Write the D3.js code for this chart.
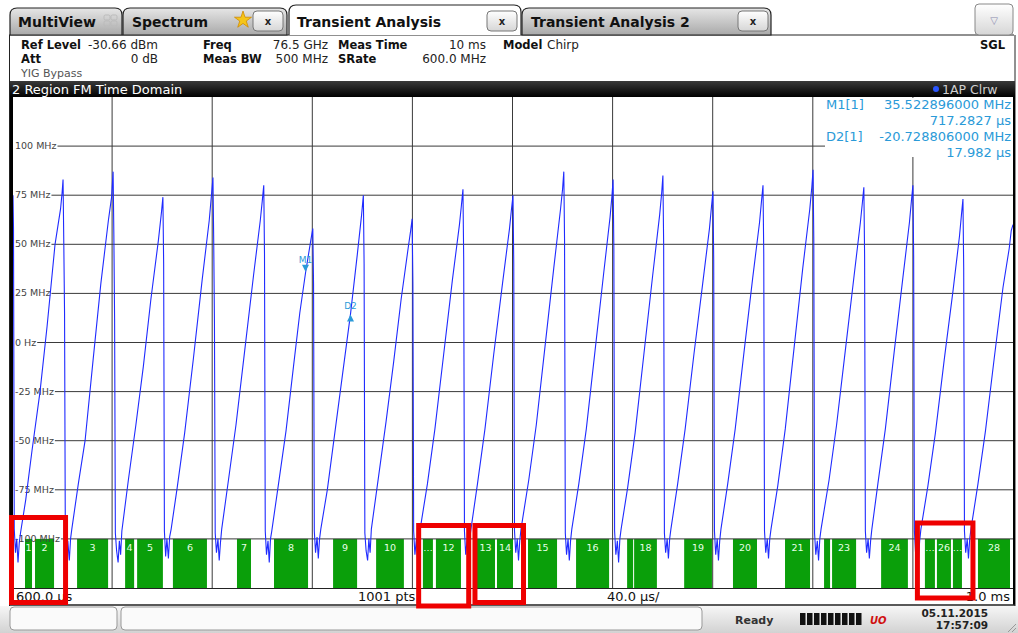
<!DOCTYPE html>
<html><head><meta charset="utf-8">
<script src="https://cdn.jsdelivr.net/npm/d3@7"></script>
<style>
html,body{margin:0;padding:0;background:#fff;}
svg{display:block;font-family:"DejaVu Sans",Verdana,sans-serif;}
</style></head><body>
<div id="chart"></div>
<script>
var timeTicks = [600,640,680,720,760,800,840,880,920,960,1000];   // µs
var freqTicks = [100,75,50,25,0,-25,-50,-75,-100];                 // MHz
var freqLabels = ["100 MHz","75 MHz","50 MHz","25 MHz","0 Hz","-25 MHz","-50 MHz","-75 MHz","-100 MHz"];

// region bars (µs)
var regionStart = [605.2,609.2,626.0,645.2,650.0,664.3,689.9,704.7,728.3,745.5,764.2,769.4,785.4,793.8,806.2,825.4,845.8,848.6,868.6,888.1,908.9,924.5,927.7,947.3,964.8,969.6,976.0,986.0];
var regionEnd   = [608.0,616.8,638.4,648.8,660.3,677.9,695.5,718.3,737.9,756.6,768.2,779.4,793.0,800.2,817.8,838.6,848.2,857.7,879.7,897.7,918.9,926.9,937.3,958.0,968.8,975.2,979.6,998.8];
var regionLabel = ["1","2","3","4","5","6","7","8","9","10","…","12","13","14","15","16","","18","19","20","21","","23","24","…","26","…","28"];

// FM trace vertices [µs, MHz]
var tracePts = [
 [600.0,66],[600.2,72],[600.4,75],[600.6,58],[600.9,-95],[601.4,-107],[601.9,-100],[602.4,-112],[602.9,-102],[603.4,-97],
 [605.5,-80],[608.0,-55],[611.2,-25],[614.0,8],[617.2,50],[619.4,68],[620.0,76],[620.4,83],
 [620.7,50],[621.0,15],[621.3,-96],[621.8,-108],[622.3,-101],[622.9,-111],[623.4,-100],[623.9,-95],
 [626.5,-72],[629.2,-50],[632.4,-9],[635.5,30],[638.5,62],[639.8,74],[640.4,87],
 [640.7,55],[641.0,12],[641.3,-97],[641.8,-106],[642.4,-112],[642.9,-101],[643.4,-108],[643.9,-96],
 [646.5,-70],[649.5,-42],[652.5,-12],[655.5,22],[658.5,52],[659.7,66],[660.3,74],
 [660.6,40],[660.9,-96],[661.4,-109],[661.9,-100],[662.5,-110],[663.0,-99],[663.6,-95],
 [666.0,-74],[669.0,-46],[672.5,-8],[676.0,32],[678.8,62],[679.7,75],[680.3,84],
 [680.6,52],[680.9,10],[681.2,-97],[681.7,-107],[682.3,-100],[682.8,-111],[683.3,-102],[683.8,-95],
 [686.5,-70],[689.5,-42],[693.0,-4],[696.5,34],[699.2,62],[700.0,72],[700.6,80],
 [700.9,45],[701.2,-96],[701.7,-108],[702.3,-101],[702.8,-112],[703.3,-100],[703.8,-96],
 [706.5,-72],[709.5,-45],[712.5,-12],[715.0,15],[717.3,35.5],[719.4,52],[720.2,58],
 [720.5,30],[720.8,-96],[721.3,-107],[721.9,-99],[722.4,-110],[722.9,-100],[723.4,-95],
 [726.0,-75],[729.0,-46],[732.0,-17],[735.3,14.8],[738.0,45],[739.7,65],[740.4,75],
 [740.7,40],[741.0,-97],[741.5,-106],[742.1,-111],[742.6,-100],[743.1,-107],[743.6,-95],
 [746.5,-68],[749.5,-40],[752.5,-10],[755.5,22],[758.3,48],[759.3,57],[759.9,63],
 [760.2,30],[760.5,-96],[761.0,-108],[761.6,-100],[762.1,-111],[762.6,-101],[763.1,-95],
 [766.0,-72],[769.0,-44],[772.5,-6],[776.0,32],[778.8,60],[779.6,70],[780.2,78],
 [780.5,42],[780.8,-96],[781.3,-108],[781.9,-100],[782.4,-110],[782.9,-100],[783.4,-95],
 [786.0,-72],[789.0,-44],[792.5,-6],[796.0,30],[798.8,58],[799.6,68],[800.2,75],
 [800.5,40],[800.8,-96],[801.3,-107],[801.9,-100],[802.4,-111],[802.9,-101],[803.4,-95],
 [806.5,-70],[809.5,-42],[813.0,-2],[816.5,38],[819.2,68],[820.0,78],[820.5,87],
 [820.8,52],[821.1,-97],[821.6,-108],[822.2,-100],[822.7,-111],[823.2,-101],[823.7,-95],
 [826.5,-72],[829.5,-44],[833.0,-4],[836.5,36],[839.0,64],[839.7,74],[840.2,83],
 [840.5,48],[840.8,-96],[841.3,-108],[841.9,-101],[842.4,-112],[842.9,-100],[843.4,-95],
 [846.0,-74],[849.0,-46],[852.5,-6],[856.0,34],[858.8,65],[859.6,76],[860.1,85],
 [860.4,50],[860.7,-97],[861.2,-107],[861.8,-100],[862.3,-110],[862.8,-100],[863.3,-95],
 [866.0,-72],[869.0,-44],[872.5,-6],[876.0,30],[878.7,58],[879.5,69],[880.1,77],
 [880.4,42],[880.7,-96],[881.2,-108],[881.8,-100],[882.3,-111],[882.8,-101],[883.3,-95],
 [886.0,-72],[889.0,-44],[892.5,-5],[896.0,33],[898.7,61],[899.5,72],[900.1,80],
 [900.4,45],[900.7,-96],[901.2,-107],[901.8,-100],[902.3,-110],[902.8,-100],[903.3,-95],
 [906.0,-73],[909.0,-44],[912.5,-3],[916.0,38],[918.8,68],[919.6,79],[920.1,88],
 [920.4,52],[920.7,-97],[921.2,-108],[921.8,-101],[922.3,-111],[922.8,-100],[923.3,-95],
 [926.5,-70],[929.5,-42],[933.0,-4],[936.5,34],[939.0,61],[939.8,71],[940.4,79],
 [940.7,44],[941.0,-96],[941.5,-107],[942.1,-100],[942.6,-110],[943.1,-101],[943.6,-95],
 [946.0,-72],[949.0,-44],[952.5,-5],[956.0,33],[958.6,61],[959.4,72],[960.0,80],
 [960.3,44],[960.6,-96],[961.1,-108],[961.7,-100],[962.2,-111],[962.7,-101],[963.2,-95],
 [966.0,-73],[969.0,-46],[972.5,-9],[976.0,26],[978.6,54],[979.4,65],[980.0,73],
 [980.3,38],[980.6,-96],[981.1,-107],[981.7,-100],[982.2,-110],[982.7,-100],[983.2,-95],
 [986.0,-72],[989.0,-45],[992.5,-8],[996.0,28],[998.5,48],[999.3,57],[1000.0,60]
];

var markerName = ["M1","D2"];
var markerT = [717.2827, 735.2647];
var markerF = [35.522896, 14.79409];

var readoutRows = [["M1[1]","35.522896000 MHz"],["","717.2827 µs"],["D2[1]","-20.728806000 MHz"],["","17.982 µs"]];

// red annotation boxes (µs)
var boxT0 = [599.8, 762.5, 785.0, 961.8];
var boxT1 = [621.4, 782.5, 804.4, 984.0];

var W = 1018, H = 633;
var svg = d3.select("#chart").append("svg").attr("width", W).attr("height", H);
var defs = svg.append("defs");

function vgrad(id, c0, c1) {
  var g = defs.append("linearGradient").attr("id", id).attr("x1",0).attr("y1",0).attr("x2",0).attr("y2",1);
  g.append("stop").attr("offset","0%").attr("stop-color",c0);
  g.append("stop").attr("offset","100%").attr("stop-color",c1);
}
vgrad("tabOff", "#e6e6e6", "#a9a9a9");
vgrad("btn", "#ffffff", "#d6d6d6");
vgrad("titleBar", "#3a3a3a", "#000000");
vgrad("status", "#f6f6f6", "#d2d2d2");

var x = d3.scaleLinear().domain([600, 1000]).range([12, 1013]);
var y = d3.scaleLinear().domain([-125, 125]).range([588, 97]);

// ---------- tab bar ----------
function tabPath(x0, x1, top) {
  return "M" + x0 + ",35 L" + x0 + "," + (top + 7) + " Q" + x0 + "," + top + " " + (x0 + 7) + "," + top +
    " L" + (x1 - 7) + "," + top + " Q" + x1 + "," + top + " " + x1 + "," + (top + 7) + " L" + x1 + ",35";
}
svg.append("line").attr("x1", 9).attr("x2", 1014).attr("y1", 35).attr("y2", 35).attr("stroke", "#222").attr("stroke-width", 1.2);

var tabs = [
  {x0: 10, x1: 122, top: 8, label: "MultiView", tx: 18, active: false, close: null},
  {x0: 123, x1: 287, top: 8, label: "Spectrum", tx: 132, active: false, close: 253},
  {x0: 289, x1: 521, top: 5, label: "Transient Analysis", tx: 297, active: true, close: 487},
  {x0: 522, x1: 771, top: 8, label: "Transient Analysis 2", tx: 531, active: false, close: 738}
];
tabs.forEach(function(t) {
  svg.append("path").attr("d", tabPath(t.x0, t.x1, t.top) + (t.active ? "" : " Z"))
    .attr("fill", t.active ? "#fff" : "url(#tabOff)")
    .attr("stroke", "#222").attr("stroke-width", 1.2);
  svg.append("text").attr("x", t.tx).attr("y", 27).text(t.label)
    .attr("font-weight", "bold").attr("font-size", 14).attr("fill", "#111");
  if (t.close != null) {
    svg.append("rect").attr("x", t.close).attr("y", 11).attr("width", 30).attr("height", 20).attr("rx", 4)
      .attr("fill", "url(#btn)").attr("stroke", "#777");
    svg.append("text").attr("x", t.close + 15).attr("y", 25).attr("text-anchor", "middle")
      .attr("font-size", 10).attr("font-weight", "bold").attr("fill", "#222").text("x");
  }
});
// multiview icon
[[104,15],[111,15],[104,21],[111,21]].forEach(function(p) {
  svg.append("rect").attr("x", p[0]).attr("y", p[1]).attr("width", 6).attr("height", 5).attr("rx", 1.5)
    .attr("fill", "none").attr("stroke", "#bbb");
});
// star icon
var star = d3.symbol().type(d3.symbolStar).size(90);
svg.append("path").attr("d", star()).attr("transform", "translate(243,20)")
  .attr("fill", "#f5c518").attr("stroke", "#d08a00").attr("stroke-width", 0.8);
// dropdown
svg.append("rect").attr("x", 975).attr("y", 4).attr("width", 38).attr("height", 31).attr("rx", 4)
  .attr("fill", "url(#btn)").attr("stroke", "#888");
svg.append("text").attr("x", 994).attr("y", 24).attr("text-anchor", "middle").attr("font-size", 10)
  .attr("fill", "#8a8ab0").text("▽");

// ---------- header ----------
svg.append("line").attr("x1", 9.5).attr("x2", 9.5).attr("y1", 35).attr("y2", 606).attr("stroke", "#222");
svg.append("line").attr("x1", 1015).attr("x2", 1015).attr("y1", 35).attr("y2", 606).attr("stroke", "#222");

var hdrBold = [["Ref Level",21,49],["Att",21,63],["Freq",203,49],["Meas BW",203,63],["Meas Time",338,49],["SRate",338,63],["Model",503,49]];
var hdrVal = [["-30.66 dBm",158,49],["0 dB",158,63],["76.5 GHz",328,49],["500 MHz",328,63],["10 ms",486,49],["600.0 MHz",486,63]];
hdrBold.forEach(function(h) {
  svg.append("text").attr("x", h[1]).attr("y", h[2]).text(h[0])
    .attr("font-weight", "bold").attr("font-size", 11.5).attr("fill", "#111");
});
hdrVal.forEach(function(h) {
  svg.append("text").attr("x", h[1]).attr("y", h[2]).attr("text-anchor", "end").text(h[0])
    .attr("font-size", 12).attr("fill", "#222");
});
svg.append("text").attr("x", 547).attr("y", 49).text("Chirp").attr("font-size", 12).attr("fill", "#222");
svg.append("text").attr("x", 1005).attr("y", 49).attr("text-anchor", "end").text("SGL")
  .attr("font-weight", "bold").attr("font-size", 11.5).attr("fill", "#111");
svg.append("text").attr("x", 21).attr("y", 77).text("YIG Bypass").attr("font-size", 11).attr("fill", "#555");

// ---------- diagram title bar ----------
svg.append("rect").attr("x", 10).attr("y", 81).attr("width", 1005).attr("height", 16).attr("fill", "url(#titleBar)");
svg.append("text").attr("x", 12).attr("y", 94).text("2 Region FM Time Domain").attr("font-size", 13).attr("fill", "#fff");
svg.append("circle").attr("cx", 936).attr("cy", 89).attr("r", 3).attr("fill", "#2a55ff");
svg.append("text").attr("x", 942).attr("y", 94).text("1AP Clrw").attr("font-size", 12.5).attr("fill", "#cfcfcf");

// ---------- grid ----------
var plot = svg.append("g");
plot.selectAll(".vg").data(timeTicks.slice(1, -1)).enter().append("line")
  .attr("x1", function(d) { return x(d); }).attr("x2", function(d) { return x(d); })
  .attr("y1", 97).attr("y2", 588).attr("stroke", "#3a3a3a").attr("stroke-width", 1);

// region bars
plot.selectAll(".reg").data(regionStart).enter().append("rect")
  .attr("x", function(d) { return x(d); })
  .attr("width", function(d, i) { return x(regionEnd[i]) - x(d); })
  .attr("y", y(-100)).attr("height", 588 - y(-100))
  .attr("fill", "#0a9f0a");
plot.selectAll(".regl").data(regionStart).enter().append("text")
  .attr("x", function(d, i) { return (x(d) + x(regionEnd[i])) / 2; })
  .attr("y", y(-100) + 12.5).attr("text-anchor", "middle")
  .attr("font-size", 9.5).attr("fill", "#e8ffe8")
  .text(function(d, i) { return regionLabel[i]; });

// horizontal grid with labels
var ylab = plot.selectAll(".yl").data(freqTicks).enter().append("text")
  .attr("x", 15).attr("y", function(d) { return y(d) + 3; })
  .attr("font-size", 9.5).attr("fill", "#444")
  .text(function(d, i) { return freqLabels[i]; });
ylab.each(function(d) {
  var w = this.getComputedTextLength();
  plot.append("line").attr("x1", 15 + w + 1).attr("x2", 1013)
    .attr("y1", y(d)).attr("y2", y(d)).attr("stroke", "#3a3a3a").attr("stroke-width", 1);
});

// trace
var line = d3.line().x(function(d) { return x(d[0]); }).y(function(d) { return y(d[1]); });
plot.append("path").datum(tracePts).attr("d", line)
  .attr("fill", "none").attr("stroke", "#1f2bff").attr("stroke-width", 1.1);

// markers
var mcol = "#2a9ad8";
markerT.forEach(function(t, i) {
  var px = x(t), py = y(markerF[i]);
  var tri = i === 0
    ? "M" + (px - 3.5) + "," + (py - 8) + " L" + (px + 3.5) + "," + (py - 8) + " L" + px + "," + (py - 1) + " Z"
    : "M" + (px - 3.5) + "," + (py + 8) + " L" + (px + 3.5) + "," + (py + 8) + " L" + px + "," + (py + 1) + " Z";
  plot.append("path").attr("d", tri).attr("fill", mcol);
  plot.append("text").attr("x", px).attr("y", i === 0 ? py - 10 : py - 4).attr("text-anchor", "middle")
    .attr("font-size", 9).attr("fill", mcol).text(markerName[i]);
});

// marker readout
plot.append("rect").attr("x", 825).attr("y", 98).attr("width", 188).attr("height", 59).attr("fill", "#fff");
readoutRows.forEach(function(r, i) {
  var yy = 109 + i * 16;
  if (r[0]) plot.append("text").attr("x", 826).attr("y", yy).text(r[0]).attr("font-size", 13).attr("fill", mcol);
  plot.append("text").attr("x", 1011).attr("y", yy).attr("text-anchor", "end").text(r[1]).attr("font-size", 13).attr("fill", mcol);
});

// frame + footer
svg.append("rect").attr("x", 10).attr("y", 97).attr("width", 3).attr("height", 508).attr("fill", "#000");
svg.append("rect").attr("x", 1013).attr("y", 97).attr("width", 2).attr("height", 508).attr("fill", "#000");
svg.append("line").attr("x1", 12).attr("x2", 1013).attr("y1", 588.5).attr("y2", 588.5).attr("stroke", "#222");
svg.append("line").attr("x1", 10).attr("x2", 1015).attr("y1", 605).attr("y2", 605).attr("stroke", "#222").attr("stroke-width", 1.5);
var foot = [["600.0 µs", 16, "start"], ["1001 pts", 358, "start"], ["40.0 µs/", 607, "start"], ["1.0 ms", 1010, "end"]];
foot.forEach(function(f) {
  svg.append("text").attr("x", f[1]).attr("y", 601).attr("text-anchor", f[2]).text(f[0])
    .attr("font-size", 13).attr("fill", "#111");
});

// status bar
svg.append("rect").attr("x", 0).attr("y", 606).attr("width", W).attr("height", 27).attr("fill", "url(#status)");
svg.append("rect").attr("x", 10).attr("y", 607).attr("width", 107).attr("height", 23).attr("rx", 4)
  .attr("fill", "#fafafa").attr("stroke", "#999");
svg.append("rect").attr("x", 121).attr("y", 607).attr("width", 581).attr("height", 23).attr("rx", 4)
  .attr("fill", "#fafafa").attr("stroke", "#999");
svg.append("text").attr("x", 735).attr("y", 624).text("Ready").attr("font-size", 11).attr("font-weight", "bold").attr("fill", "#333");
d3.range(9).forEach(function(i) {
  svg.append("rect").attr("x", 800 + i * 7).attr("y", 613).attr("width", 5.5).attr("height", 12).attr("fill", "#111");
});
svg.append("text").attr("x", 870).attr("y", 624).text("UO").attr("font-size", 10).attr("font-style", "italic")
  .attr("font-weight", "bold").attr("fill", "#d01010");
svg.append("text").attr("x", 988).attr("y", 617).attr("text-anchor", "end").text("05.11.2015")
  .attr("font-size", 10.5).attr("font-weight", "bold").attr("fill", "#222");
svg.append("text").attr("x", 988).attr("y", 629).attr("text-anchor", "end").text("17:57:09")
  .attr("font-size", 10.5).attr("font-weight", "bold").attr("fill", "#222");
[0, 4, 8].forEach(function(o) {
  svg.append("line").attr("x1", 1016 - o).attr("y1", 632).attr("x2", 1016).attr("y2", 632 - o)
    .attr("stroke", "#999");
});

// red annotation boxes
var boxY0 = [517.5, 525.5, 525.5, 523];
var boxY1 = [602.5, 606, 602.5, 598];
boxT0.forEach(function(t, i) {
  svg.append("rect").attr("x", x(t)).attr("y", boxY0[i])
    .attr("width", x(boxT1[i]) - x(t)).attr("height", boxY1[i] - boxY0[i])
    .attr("fill", "none").attr("stroke", "#ee0000").attr("stroke-width", 5);
});
</script>
</body></html>
